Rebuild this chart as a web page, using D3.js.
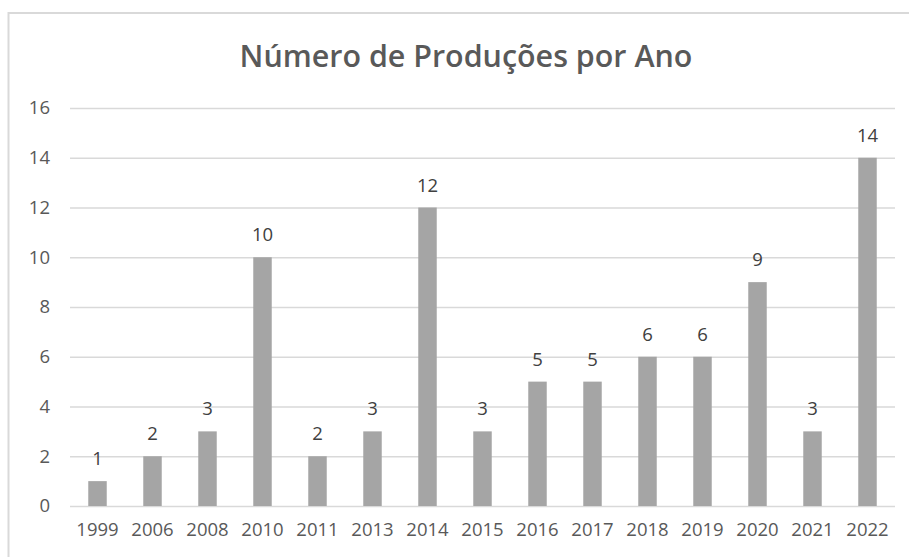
<!DOCTYPE html>
<html>
<head>
<meta charset="utf-8">
<script src="https://cdn.jsdelivr.net/npm/d3@7"></script>
<style>
  html, body { margin: 0; padding: 0; background: #fff; }
  svg { display: block; }
  text { font-family: "Open Sans", "Noto Sans", sans-serif; }
</style>
</head>
<body>
<div id="chart"></div>
<script>
// data
const years  = ["1999", "2006", "2008", "2010", "2011", "2013", "2014", "2015",
                "2016", "2017", "2018", "2019", "2020", "2021", "2022"];
const counts = [1, 2, 3, 10, 2, 3, 12, 3, 5, 5, 6, 6, 9, 3, 14];
const yTicks = [0, 2, 4, 6, 8, 10, 12, 14, 16];
const chartTitle = "Número de Produções por Ano";

const width = 909, height = 557;
const m = { top: 108, right: 14, bottom: 51, left: 70 };

const svg = d3.select("#chart").append("svg")
  .attr("width", width)
  .attr("height", height);

// chart area border (right/bottom run off the picture)
svg.append("rect")
  .attr("x", 8.5)
  .attr("y", 13)
  .attr("width", 940)
  .attr("height", 600)
  .attr("fill", "#fff")
  .attr("stroke", "#d9d9d9")
  .attr("stroke-width", 2);

const x = d3.scaleBand()
  .domain(years)
  .range([m.left, width - m.right])
  .paddingInner(0.664)
  .paddingOuter(0.332);

const y = d3.scaleLinear()
  .domain([0, 16])
  .range([height - m.bottom, m.top]);

// gridlines + y labels
const yAxis = svg.append("g")
  .attr("transform", `translate(${m.left},0)`)
  .call(d3.axisLeft(y)
    .tickValues(yTicks)
    .tickSize(-(width - m.left - m.right))
    .tickPadding(20));

yAxis.select(".domain").remove();
yAxis.selectAll(".tick line")
  .attr("stroke", "#d9d9d9")
  .attr("stroke-width", 1.5);
yAxis.selectAll(".tick text")
  .attr("fill", "#595959")
  .attr("font-size", 18.5);

// x labels
const xAxis = svg.append("g")
  .attr("transform", `translate(0,${height - m.bottom})`)
  .call(d3.axisBottom(x).tickSize(0).tickPadding(17));

xAxis.select(".domain").remove();
xAxis.selectAll(".tick text")
  .attr("fill", "#595959")
  .attr("font-size", 18.5);

// bars
svg.append("g")
  .selectAll("rect")
  .data(years)
  .join("rect")
  .attr("x", (d) => x(d))
  .attr("y", (d, i) => y(counts[i]))
  .attr("width", x.bandwidth())
  .attr("height", (d, i) => y(0) - y(counts[i]))
  .attr("fill", "#a5a5a5");

// value labels
svg.append("g")
  .selectAll("text")
  .data(years)
  .join("text")
  .attr("x", (d) => x(d) + x.bandwidth() / 2)
  .attr("y", (d, i) => y(counts[i]) - 16)
  .attr("text-anchor", "middle")
  .attr("font-size", 18.5)
  .attr("fill", "#404040")
  .text((d, i) => counts[i]);

// title, sized to the width seen in the picture
const title = svg.append("text")
  .attr("x", 466)
  .attr("y", 67)
  .attr("text-anchor", "middle")
  .attr("font-size", 30)
  .attr("font-weight", 600)
  .attr("fill", "#595959")
  .text(chartTitle);

const tw = title.node().getComputedTextLength();
title.attr("font-size", 30 * 453 / tw);
</script>
</body>
</html>
